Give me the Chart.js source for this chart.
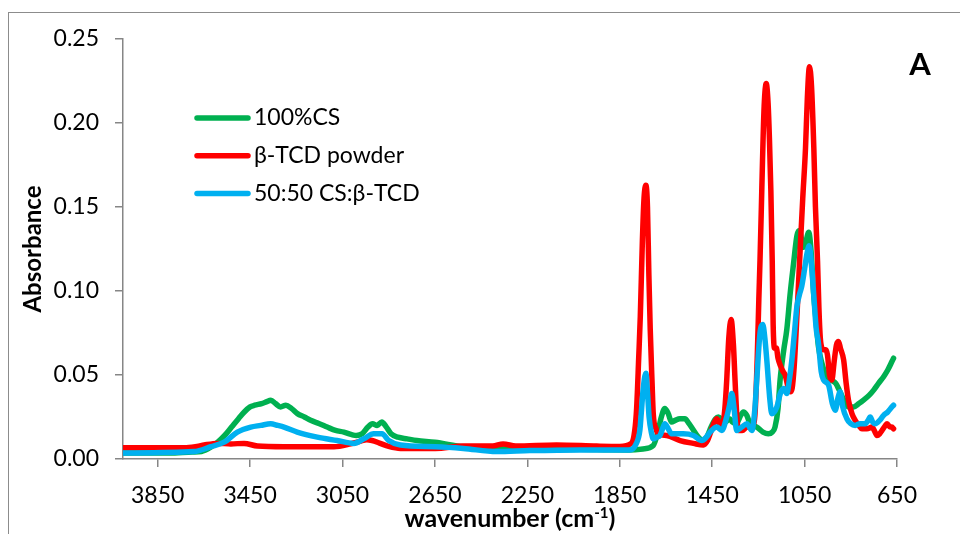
<!DOCTYPE html>
<html>
<head>
<meta charset="utf-8">
<script src="https://cdn.jsdelivr.net/npm/chart.js@4.4.1/dist/chart.umd.min.js"></script>
<style>
html,body{margin:0;padding:0;background:#fff;}
#wrap{position:relative;width:960px;height:534px;overflow:hidden;}
#frame{position:absolute;left:8px;top:12px;width:1000px;height:600px;border-left:1px solid #8c8c8c;border-top:1px solid #8c8c8c;}
canvas{position:absolute;left:0;top:0;}
</style>
</head>
<body>
<div id="wrap"><div id="frame"></div><canvas id="ftir" width="960" height="534"></canvas></div>
<script>
// FTIR spectra (wavenumber cm-1, absorbance)

const xTicks = [3850, 3450, 3050, 2650, 2250, 1850, 1450, 1050, 650];

const csWave = [4000,3800,3700,3660,3620,3590,3560,3530,3500,3475,3450,3430,3400,3380,3360,3340,3318,3295,3270,3245,3215,3188,3150,3116,3080,3044,3010,2990,2965,2940,2920,2900,2880,2860,2840,2810,2770,2728,2650,2527,2380,2240,2020,1900,1810,1750,1705,1685,1670,1655,1640,1626,1610,1590,1568,1550,1535,1510,1488,1470,1455,1435,1423,1405,1392,1375,1362,1345,1330,1315,1300,1286,1257,1230,1207,1190,1178,1165,1156,1140,1127,1112,1098,1083,1072,1062,1055,1045,1032,1022,1011,1000,990,975,955,935,915,900,880,860,838,815,795,770,751,730,708,690,672,665];
const csAbs = [0.0035,0.0036,0.0042,0.0045,0.007,0.010,0.014,0.019,0.024,0.028,0.031,0.032,0.033,0.034,0.035,0.033,0.031,0.032,0.030,0.027,0.025,0.023,0.021,0.019,0.017,0.016,0.0145,0.014,0.015,0.019,0.021,0.020,0.022,0.019,0.015,0.013,0.012,0.011,0.010,0.0073,0.0063,0.0055,0.0058,0.0055,0.0054,0.006,0.008,0.016,0.025,0.030,0.027,0.022,0.023,0.024,0.024,0.021,0.018,0.013,0.011,0.014,0.019,0.024,0.025,0.023,0.022,0.024,0.022,0.021,0.025,0.028,0.026,0.021,0.019,0.016,0.015,0.016,0.019,0.030,0.047,0.065,0.077,0.099,0.116,0.133,0.136,0.130,0.126,0.129,0.135,0.124,0.099,0.082,0.067,0.057,0.049,0.047,0.045,0.041,0.035,0.031,0.031,0.033,0.035,0.038,0.041,0.045,0.049,0.053,0.058,0.060];

const tcdWave = [4000,3735,3680,3649,3591,3533,3476,3418,3303,3087,3015,2975,2945,2922,2890,2850,2799,2648,2527,2400,2355,2300,2124,1950,1850,1800,1785,1777,1768,1761,1752,1745,1737,1730,1724,1718,1710,1705,1693,1683,1647,1589,1531,1488,1470,1459,1440,1430,1418,1408,1395,1387,1378,1368,1358,1351,1343,1336,1320,1300,1275,1264,1255,1248,1243,1237,1232,1225,1216,1208,1202,1196,1190,1186,1180,1172,1165,1153,1143,1134,1122,1112,1104,1095,1085,1076,1069,1058,1046,1038,1029,1020,1010,1003,994,988,982,975,968,958,951,942,932,922,912,903,895,881,870,860,845,831,815,802,780,758,745,737,725,715,700,693,680,672,665];
const tcdAbs = [0.0067,0.0067,0.0075,0.0083,0.0093,0.009,0.0093,0.0077,0.0073,0.0073,0.009,0.0105,0.0115,0.011,0.0095,0.0075,0.0063,0.0063,0.0077,0.0077,0.009,0.0077,0.0083,0.0077,0.0075,0.0093,0.017,0.030,0.060,0.085,0.130,0.155,0.163,0.150,0.110,0.077,0.045,0.027,0.018,0.015,0.014,0.011,0.0093,0.0083,0.011,0.015,0.022,0.024,0.021,0.019,0.030,0.047,0.072,0.083,0.068,0.047,0.025,0.017,0.017,0.019,0.020,0.028,0.060,0.095,0.118,0.150,0.178,0.210,0.2235,0.212,0.190,0.160,0.118,0.080,0.066,0.066,0.060,0.055,0.052,0.050,0.043,0.040,0.042,0.055,0.080,0.105,0.125,0.155,0.185,0.215,0.2335,0.222,0.185,0.150,0.118,0.090,0.072,0.066,0.065,0.065,0.062,0.050,0.047,0.058,0.068,0.070,0.066,0.059,0.045,0.035,0.027,0.023,0.020,0.018,0.018,0.019,0.016,0.014,0.015,0.017,0.020,0.021,0.019,0.019,0.018];

const mixWave = [4000,3692,3620,3562,3505,3447,3404,3361,3330,3303,3246,3159,3073,3001,2958,2915,2879,2850,2799,2648,2527,2383,2239,2023,1807,1778,1763,1757,1749,1737,1730,1723,1712,1705,1690,1676,1662,1655,1640,1626,1575,1531,1495,1475,1459,1430,1408,1387,1375,1365,1355,1344,1322,1300,1278,1265,1257,1243,1231,1222,1213,1200,1192,1170,1155,1141,1127,1115,1105,1094,1083,1072,1062,1050,1040,1030,1020,1011,1000,990,978,968,946,930,917,906,896,885,867,850,831,810,787,775,766,755,744,725,708,690,672,665];
const mixAbs = [0.0036,0.0044,0.0073,0.010,0.016,0.019,0.020,0.021,0.020,0.019,0.016,0.013,0.011,0.0093,0.012,0.015,0.015,0.011,0.0083,0.0073,0.0063,0.0044,0.005,0.0054,0.0054,0.0093,0.017,0.027,0.041,0.051,0.040,0.025,0.015,0.012,0.013,0.014,0.019,0.021,0.018,0.015,0.015,0.014,0.011,0.013,0.016,0.019,0.017,0.025,0.032,0.039,0.030,0.017,0.019,0.021,0.017,0.030,0.047,0.075,0.080,0.072,0.058,0.035,0.027,0.031,0.039,0.042,0.039,0.048,0.059,0.075,0.091,0.098,0.103,0.113,0.122,0.127,0.115,0.099,0.078,0.069,0.052,0.047,0.044,0.033,0.029,0.036,0.040,0.031,0.024,0.021,0.020,0.021,0.021,0.023,0.025,0.022,0.021,0.023,0.026,0.028,0.031,0.032];

const labels = ['100%CS', 'β-TCD powder', '50:50 CS:β-TCD'];
const colors = ['#00B050', '#FF0000', '#00B0F0'];

function pts(w, a) { return w.map((v, i) => ({x: v, y: a[i]})); }

const FONT = 'Lato';
const AXIS = '#868686';

// legend, x title with superscript, panel letter
const extras = {
  id: 'extras',
  afterDraw(chart) {
    const ctx = chart.ctx;
    const area = chart.chartArea;
    ctx.save();
    labels.forEach((lab, i) => {
      const y = 118 + i * 37.7;
      ctx.strokeStyle = colors[i];
      ctx.lineWidth = 5.5;
      ctx.lineCap = 'round';
      ctx.beginPath(); ctx.moveTo(197, y); ctx.lineTo(248, y); ctx.stroke();
      ctx.fillStyle = '#000';
      ctx.font = '23px ' + FONT;
      ctx.textBaseline = 'middle';
      ctx.textAlign = 'left';
      ctx.fillText(lab, 254, y);
    });

    const t1 = 'wavenumber (cm', sup = '-1', t2 = ')';
    ctx.font = 'bold 25px ' + FONT;
    const w1 = ctx.measureText(t1).width, w2 = ctx.measureText(t2).width;
    ctx.font = 'bold 15px ' + FONT;
    const ws = ctx.measureText(sup).width;
    let x = (area.left + area.right) / 2 - (w1 + ws + w2) / 2;
    const base = 527;
    ctx.textBaseline = 'alphabetic';
    ctx.fillStyle = '#000';
    ctx.font = 'bold 25px ' + FONT;
    ctx.fillText(t1, x, base); x += w1;
    ctx.font = 'bold 15px ' + FONT;
    ctx.fillText(sup, x, base - 9); x += ws;
    ctx.font = 'bold 25px ' + FONT;
    ctx.fillText(t2, x, base);

    ctx.font = 'bold 31px ' + FONT;
    ctx.textAlign = 'center';
    ctx.fillText('A', 920, 75);
    ctx.restore();
  }
};

new Chart(document.getElementById('ftir'), {
  type: 'line',
  data: {
    datasets: [
      {label: labels[0], data: pts(csWave, csAbs), borderColor: colors[0], order: 3},
      {label: labels[1], data: pts(tcdWave, tcdAbs), borderColor: colors[1], order: 2},
      {label: labels[2], data: pts(mixWave, mixAbs), borderColor: colors[2], order: 1}
    ]
  },
  options: {
    responsive: false,
    animation: false,
    layout: {padding: {left: 0, right: 63, top: 39, bottom: 0}},
    elements: {
      point: {radius: 0},
      line: {borderWidth: 5.5, cubicInterpolationMode: 'monotone', borderCapStyle: 'round', borderJoinStyle: 'round', fill: false}
    },
    plugins: {legend: {display: false}, tooltip: {enabled: false}},
    scales: {
      x: {
        type: 'linear',
        reverse: true,
        min: 650,
        max: 4000,
        afterBuildTicks: s => { s.ticks = xTicks.map(v => ({value: v})); },
        afterFit: s => { s.height = 75; },
        ticks: {font: {family: FONT, size: 23}, color: '#000', padding: 15, maxRotation: 0, autoSkip: false, callback: v => String(v)},
        grid: {drawOnChartArea: false, drawTicks: true, tickLength: 8, color: AXIS, lineWidth: 1.5},
        border: {color: AXIS, width: 1.5}
      },
      y: {
        min: 0,
        max: 0.25,
        afterFit: s => { s.width = 123; },
        ticks: {stepSize: 0.05, font: {family: FONT, size: 23}, color: '#000', padding: 16, callback: v => v.toFixed(2)},
        grid: {drawOnChartArea: false, drawTicks: true, tickLength: 8, color: AXIS, lineWidth: 1.5},
        border: {color: AXIS, width: 1.5},
        title: {display: true, text: 'Absorbance', color: '#000', font: {family: FONT, size: 24, weight: 'bold'}, padding: {top: 19, bottom: 0}}
      }
    }
  },
  plugins: [extras]
});
</script>
</body>
</html>
